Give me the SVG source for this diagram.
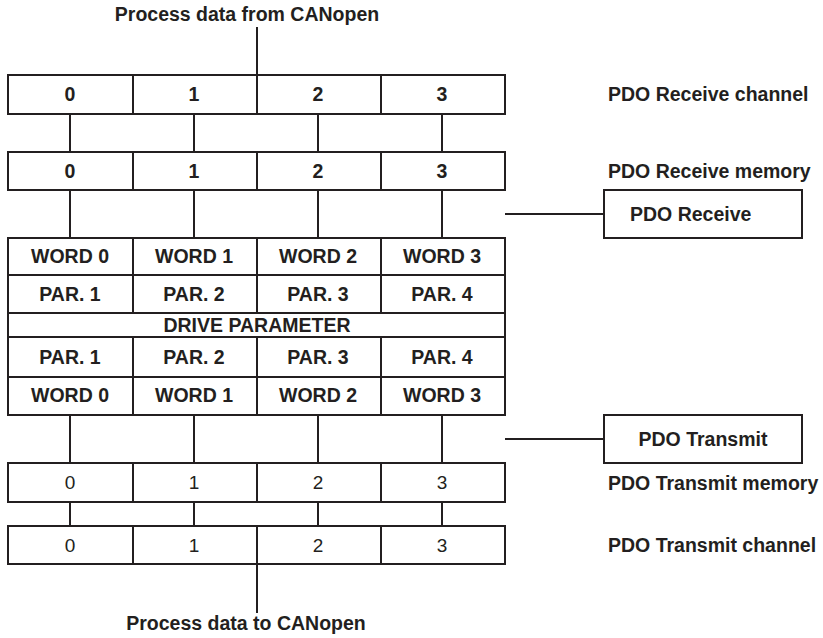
<svg xmlns="http://www.w3.org/2000/svg" width="823" height="638" viewBox="0 0 823 638">
  <style>
    .cell { fill: #ffffff; stroke: #231f20; stroke-width: 2; }
    .wire { fill: none; stroke: #231f20; stroke-width: 2; }
    .b { font-family: "Liberation Sans", Arial, sans-serif; font-weight: bold; font-size: 19.5px; fill: #231f20; }
    .r { font-family: "Liberation Sans", Arial, sans-serif; font-size: 19px; fill: #231f20; }
    .c { text-anchor: middle; }
  </style>
  <rect width="823" height="638" fill="#ffffff"/>

  <!-- connectors -->
  <g id="connectors" class="wire">
    <line x1="257" y1="27" x2="257" y2="75"/>
    <line x1="70" y1="114" x2="70" y2="152"/>
    <line x1="194" y1="114" x2="194" y2="152"/>
    <line x1="318" y1="114" x2="318" y2="152"/>
    <line x1="442" y1="114" x2="442" y2="152"/>
    <line x1="70" y1="190" x2="70" y2="238"/>
    <line x1="194" y1="190" x2="194" y2="238"/>
    <line x1="318" y1="190" x2="318" y2="238"/>
    <line x1="442" y1="190" x2="442" y2="238"/>
    <line x1="505" y1="214" x2="604" y2="214"/>
    <line x1="70" y1="415" x2="70" y2="463"/>
    <line x1="194" y1="415" x2="194" y2="463"/>
    <line x1="318" y1="415" x2="318" y2="463"/>
    <line x1="442" y1="415" x2="442" y2="463"/>
    <line x1="505" y1="439" x2="604" y2="439"/>
    <line x1="70" y1="502" x2="70" y2="526"/>
    <line x1="194" y1="502" x2="194" y2="526"/>
    <line x1="318" y1="502" x2="318" y2="526"/>
    <line x1="442" y1="502" x2="442" y2="526"/>
    <line x1="257" y1="564" x2="257" y2="613"/>
  </g>

  <g id="label-from">
    <text class="b c" x="247" y="21">Process data from CANopen</text>
  </g>

  <!-- PDO receive channel -->
  <g id="rx-channel">
    <rect class="cell" x="8" y="75" width="497" height="39"/>
    <line class="wire" x1="133" y1="75" x2="133" y2="114"/>
    <line class="wire" x1="257" y1="75" x2="257" y2="114"/>
    <line class="wire" x1="381" y1="75" x2="381" y2="114"/>
    <text class="b c" x="70" y="101">0</text>
    <text class="b c" x="194" y="101">1</text>
    <text class="b c" x="318" y="101">2</text>
    <text class="b c" x="442" y="101">3</text>
  </g>
  <g id="rx-channel-label"><text class="b" x="608" y="101">PDO Receive channel</text></g>

  <!-- PDO receive memory -->
  <g id="rx-memory">
    <rect class="cell" x="8" y="152" width="497" height="38"/>
    <line class="wire" x1="133" y1="152" x2="133" y2="190"/>
    <line class="wire" x1="257" y1="152" x2="257" y2="190"/>
    <line class="wire" x1="381" y1="152" x2="381" y2="190"/>
    <text class="b c" x="70" y="177.5">0</text>
    <text class="b c" x="194" y="177.5">1</text>
    <text class="b c" x="318" y="177.5">2</text>
    <text class="b c" x="442" y="177.5">3</text>
  </g>
  <g id="rx-memory-label"><text class="b" x="608" y="178">PDO Receive memory</text></g>

  <g id="pdo-receive">
    <rect class="cell" x="604" y="190" width="198" height="48"/>
    <text class="b" x="630" y="221">PDO Receive</text>
  </g>

  <!-- drive parameter block -->
  <g id="drive-block">
    <rect class="cell" x="8" y="238" width="497" height="177"/>
    <line class="wire" x1="8" y1="275" x2="505" y2="275"/>
    <line class="wire" x1="8" y1="313" x2="505" y2="313"/>
    <line class="wire" x1="8" y1="337" x2="505" y2="337"/>
    <line class="wire" x1="8" y1="377" x2="505" y2="377"/>
    <line class="wire" x1="133" y1="238" x2="133" y2="313"/>
    <line class="wire" x1="257" y1="238" x2="257" y2="313"/>
    <line class="wire" x1="381" y1="238" x2="381" y2="313"/>
    <line class="wire" x1="133" y1="337" x2="133" y2="415"/>
    <line class="wire" x1="257" y1="337" x2="257" y2="415"/>
    <line class="wire" x1="381" y1="337" x2="381" y2="415"/>
    <text class="b c" x="70" y="263">WORD 0</text>
    <text class="b c" x="194" y="263">WORD 1</text>
    <text class="b c" x="318" y="263">WORD 2</text>
    <text class="b c" x="442" y="263">WORD 3</text>
    <text class="b c" x="70" y="301">PAR. 1</text>
    <text class="b c" x="194" y="301">PAR. 2</text>
    <text class="b c" x="318" y="301">PAR. 3</text>
    <text class="b c" x="442" y="301">PAR. 4</text>
    <text class="b c" x="257" y="332">DRIVE PARAMETER</text>
    <text class="b c" x="70" y="363.5">PAR. 1</text>
    <text class="b c" x="194" y="363.5">PAR. 2</text>
    <text class="b c" x="318" y="363.5">PAR. 3</text>
    <text class="b c" x="442" y="363.5">PAR. 4</text>
    <text class="b c" x="70" y="402">WORD 0</text>
    <text class="b c" x="194" y="402">WORD 1</text>
    <text class="b c" x="318" y="402">WORD 2</text>
    <text class="b c" x="442" y="402">WORD 3</text>
  </g>

  <g id="pdo-transmit">
    <rect class="cell" x="604" y="415" width="198" height="48"/>
    <text class="b c" x="703" y="446">PDO Transmit</text>
  </g>

  <!-- PDO transmit memory -->
  <g id="tx-memory">
    <rect class="cell" x="8" y="463" width="497" height="39"/>
    <line class="wire" x1="133" y1="463" x2="133" y2="502"/>
    <line class="wire" x1="257" y1="463" x2="257" y2="502"/>
    <line class="wire" x1="381" y1="463" x2="381" y2="502"/>
    <text class="r c" x="70" y="489">0</text>
    <text class="r c" x="194" y="489">1</text>
    <text class="r c" x="318" y="489">2</text>
    <text class="r c" x="442" y="489">3</text>
  </g>
  <g id="tx-memory-label"><text class="b" x="608" y="490">PDO Transmit memory</text></g>

  <!-- PDO transmit channel -->
  <g id="tx-channel">
    <rect class="cell" x="8" y="526" width="497" height="38"/>
    <line class="wire" x1="133" y1="526" x2="133" y2="564"/>
    <line class="wire" x1="257" y1="526" x2="257" y2="564"/>
    <line class="wire" x1="381" y1="526" x2="381" y2="564"/>
    <text class="r c" x="70" y="551.5">0</text>
    <text class="r c" x="194" y="551.5">1</text>
    <text class="r c" x="318" y="551.5">2</text>
    <text class="r c" x="442" y="551.5">3</text>
  </g>
  <g id="tx-channel-label"><text class="b" x="608" y="552">PDO Transmit channel</text></g>

  <g id="label-to">
    <text class="b c" x="246" y="630">Process data to CANopen</text>
  </g>
</svg>
